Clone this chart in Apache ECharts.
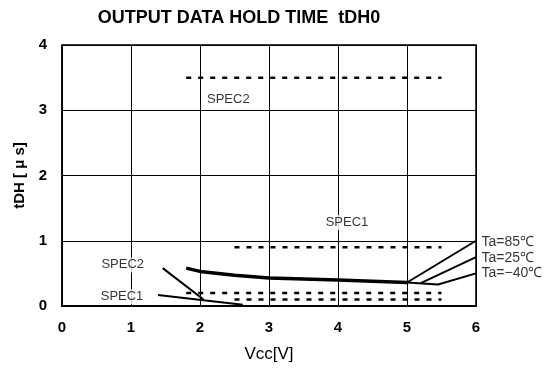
<!DOCTYPE html>
<html><head><meta charset="utf-8">
<script src="https://cdn.jsdelivr.net/npm/echarts@6/dist/echarts.min.js"></script>
<style>html,body{margin:0;padding:0;background:#fff}#c{width:547px;height:370px}</style>
</head><body><div id="c"></div>
<script>
const xTicks = [0, 1, 2, 3, 4, 5, 6];
const yTicks = [0, 1, 2, 3, 4];
const mainCurve = [[1.8, 0.58], [2, 0.53], [2.5, 0.47], [3, 0.43], [4, 0.40], [5, 0.36]];
const ta85 = [[5, 0.36], [6, 1.0]];
const ta25 = [[5.2, 0.35], [6, 0.75]];
const taM40 = [[5, 0.36], [5.45, 0.33], [6, 0.5]];
const spec2High = [[1.8, 3.5], [5.5, 3.5]];
const spec2Low = [[1.8, 0.2], [5.5, 0.2]];
const spec1High = [[2.5, 0.9], [5.5, 0.9]];
const spec1Low = [[2.5, 0.1], [5.5, 0.1]];
const spec2Pointer = [[1.46, 0.58], [2.05, 0.1]];
const spec1Pointer = [[1.39, 0.17], [2.62, 0.02]];
const centerLabels = [
  {name: 'SPEC2', value: [2.41, 3.17]},
  {name: 'SPEC1', value: [4.13, 1.28]},
  {name: 'SPEC2', value: [0.88, 0.63]},
  {name: 'SPEC1', value: [0.87, 0.14]}
];
const taLabels = [
  {name: 'Ta=85℃', value: [6.08, 0.98]},
  {name: 'Ta=25℃', value: [6.08, 0.74]},
  {name: 'Ta=−40℃', value: [6.08, 0.50]}
];
const chart = echarts.init(document.getElementById('c'));
const blk = '#000';
function ln(data, w, type) {
  return {type: 'line', data: data, symbol: 'none', silent: true,
    lineStyle: {color: blk, width: w, type: type || 'solid'}};
}
chart.setOption({
  animation: false,
  title: {text: 'OUTPUT DATA HOLD TIME  tDH0', left: 234, top: 4, textAlign: 'center',
    textStyle: {fontFamily: 'Liberation Sans', fontSize: 18, fontWeight: 'bold', color: blk}},
  grid: {left: 62, right: 71, top: 45, bottom: 64, show: true, borderColor: blk, borderWidth: 1.5},
  xAxis: {type: 'value', min: 0, max: 6, interval: 1,
    name: 'Vcc[V]', nameLocation: 'middle', nameGap: 40,
    nameTextStyle: {fontFamily: 'Liberation Sans', fontSize: 17, color: blk},
    axisLine: {show: true, lineStyle: {color: blk, width: 2}},
    axisTick: {show: false},
    axisLabel: {margin: 14, fontFamily: 'Liberation Sans', fontSize: 15, fontWeight: 'bold', color: blk,
      formatter: v => xTicks.includes(v) ? String(v) : ''},
    splitLine: {show: true, lineStyle: {color: blk, width: 1}}},
  yAxis: {type: 'value', min: 0, max: 4, interval: 1,
    name: 'tDH [ μ s]', nameLocation: 'middle', nameGap: 33, nameRotate: 90,
    nameTextStyle: {fontFamily: 'Liberation Sans', fontSize: 15, fontWeight: 'bold', color: blk},
    axisLine: {show: true, lineStyle: {color: blk, width: 1.5}},
    axisTick: {show: false},
    axisLabel: {margin: 15, fontFamily: 'Liberation Sans', fontSize: 15, fontWeight: 'bold', color: blk,
      formatter: v => yTicks.includes(v) ? String(v) : ''},
    splitLine: {show: true, lineStyle: {color: blk, width: 1}}},
  series: [
    ln(spec2High, 2.5, [5, 7]),
    ln(spec1High, 2.5, [5, 7]),
    ln(spec2Low, 2.5, [5, 7]),
    ln(spec1Low, 2.5, [5, 7]),
    ln(mainCurve, 3.5),
    ln(ta85, 2),
    ln(ta25, 2),
    ln(taM40, 2),
    ln(spec2Pointer, 2),
    ln(spec1Pointer, 2),
    {type: 'scatter', data: centerLabels, symbolSize: 0, silent: true, clip: false,
      label: {show: true, position: 'inside', formatter: p => p.name,
        fontFamily: 'Liberation Sans', fontSize: 13, color: blk, backgroundColor: '#fff', padding: [1, 2]}},
    {type: 'scatter', data: taLabels, symbolSize: 0, silent: true, clip: false,
      label: {show: true, position: 'right', distance: 0, formatter: p => p.name,
        fontFamily: 'Liberation Sans', fontSize: 14, color: blk}}
  ]
});
</script></body></html>
